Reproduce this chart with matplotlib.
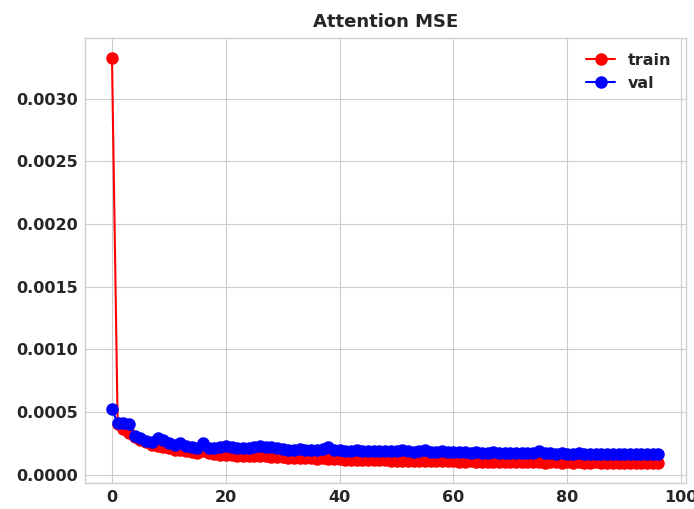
import matplotlib
matplotlib.use("Agg")
import matplotlib.pyplot as plt

epochs = list(range(97))

train_mse = [
    0.00332, 0.00040, 0.00036, 0.00033, 0.00030, 0.00028, 0.00026, 0.00024, 0.00023, 0.00022,
    0.00021, 0.00020, 0.000195, 0.000185, 0.00018, 0.000175, 0.00019, 0.00017, 0.000165, 0.00016,
    0.000158, 0.000155, 0.00015, 0.00015, 0.000148, 0.000145, 0.00015, 0.000152, 0.000142, 0.00014,
    0.000138, 0.000136, 0.000135, 0.000133, 0.000132, 0.00013, 0.000128, 0.00013, 0.000127, 0.000125,
    0.000122, 0.00012, 0.000118, 0.00012, 0.000117, 0.000115, 0.000115, 0.000113, 0.000114, 0.000112,
    0.00011, 0.000112, 0.00011, 0.000108, 0.00011, 0.000107, 0.000108, 0.000106, 0.000105, 0.000107,
    0.000105, 0.000104, 0.000103, 0.000105, 0.000102, 0.000103, 0.000101, 0.000102, 0.0001, 0.000102,
    0.0001, 0.000101, 0.0001, 0.000099, 0.000102, 0.000097, 0.000096, 0.000098, 0.000097, 0.000096,
    0.000098, 0.000096, 0.000097, 0.000095, 0.000096, 0.000097, 0.000095, 0.000096, 0.000094, 0.000096,
    0.000095, 0.000094, 0.000096, 0.000095, 0.000094, 0.000095, 0.000096,
]

val_mse = [
    0.00052, 0.00041, 0.00041, 0.00040, 0.00031, 0.00029, 0.00027, 0.00026, 0.00029, 0.00028,
    0.00025, 0.00024, 0.00025, 0.00023, 0.00022, 0.00021, 0.00025, 0.00021, 0.00021, 0.00022,
    0.00023, 0.00022, 0.00021, 0.00021, 0.00021, 0.00022, 0.00023, 0.00022, 0.00022, 0.00021,
    0.000205, 0.0002, 0.0002, 0.000205, 0.0002, 0.00020, 0.000198, 0.000205, 0.00022, 0.0002,
    0.000195, 0.00019, 0.00019, 0.000195, 0.00019, 0.000188, 0.00019, 0.000185, 0.000188, 0.000186,
    0.000185, 0.000195, 0.000185, 0.000183, 0.00019, 0.000195, 0.000182, 0.00018, 0.000185, 0.00018,
    0.000178, 0.000182, 0.000178, 0.000176, 0.00018, 0.000176, 0.000175, 0.000178, 0.000174, 0.000176,
    0.000174, 0.000172, 0.000175, 0.000172, 0.00017, 0.000185, 0.000172, 0.00017, 0.000168, 0.00017,
    0.000168, 0.000167, 0.000175, 0.000166, 0.000165, 0.000167, 0.000164, 0.000166, 0.000163, 0.000165,
    0.000164, 0.000163, 0.000165, 0.000162, 0.000164, 0.000163, 0.000162,
]

plt.style.use("seaborn-v0_8-whitegrid")
plt.rcParams["font.family"] = "DejaVu Sans"
plt.rcParams["font.weight"] = "bold"
plt.rcParams["axes.titleweight"] = "bold"

fig = plt.figure(figsize=(6.94, 5.09), dpi=100)
ax = fig.add_axes([0.122, 0.051, 0.866, 0.874])

ax.plot(epochs, train_mse, "-o", color="red", markersize=8, linewidth=1.5, label="train")
ax.plot(epochs, val_mse, "-o", color="blue", markersize=8, linewidth=1.5, label="val")

ax.set_title("Attention MSE", fontsize=13, color="#262626", pad=8)
ax.tick_params(labelsize=11.5, colors="#262626", pad=5)
ax.set_yticks([0.0, 0.0005, 0.0010, 0.0015, 0.0020, 0.0025, 0.0030])
ax.set_yticklabels(["0.0000", "0.0005", "0.0010", "0.0015", "0.0020", "0.0025", "0.0030"])
for lbl in ax.get_xticklabels() + ax.get_yticklabels():
    lbl.set_fontweight("bold")
for sp in ax.spines.values():
    sp.set_visible(True)
    sp.set_color("#d0d0d0")

leg = ax.legend(loc="upper right", fontsize=11.5, frameon=False, handlelength=1.8)
for t in leg.get_texts():
    t.set_fontweight("bold")
    t.set_color("#262626")

fig.savefig("out.png", dpi=100)
